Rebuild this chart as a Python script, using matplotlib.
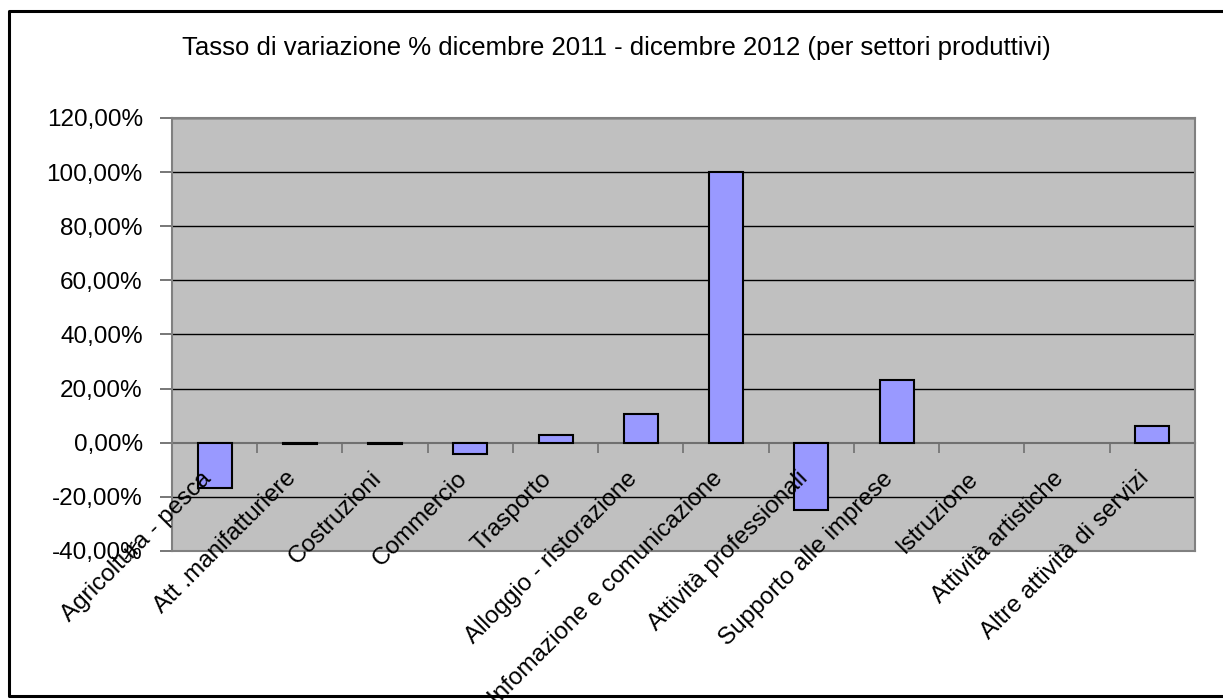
import matplotlib
matplotlib.use("Agg")
import matplotlib.pyplot as plt
from matplotlib.ticker import FuncFormatter, MultipleLocator, FixedLocator
from matplotlib.lines import Line2D

plt.rcParams['font.family'] = ['Liberation Sans', 'DejaVu Sans']

settori = ['Agricoltura - pesca', 'Att .manifatturiere', 'Costruzioni', 'Commercio',
           'Trasporto', 'Alloggio - ristorazione', 'Infomazione e comunicazione',
           'Attività professionali', 'Supporto alle imprese', 'Istruzione',
           'Attività artistiche', 'Altre attività di servizi']
variazione = [-16.7, -0.4, -0.4, -4.0, 2.8, 10.7, 100.0, -24.8, 23.3, 0.0, 0.0, 6.0]

fig = plt.figure(figsize=(12.23, 7), dpi=100)
ax = fig.add_axes([0.1406, 0.2129, 0.8365, 0.6186])
ax.set_facecolor('#C0C0C0')

x = range(len(settori))
bordi = ['black' if v != 0 else 'none' for v in variazione]
ax.bar(x, variazione, width=0.4, color='#9999FF', edgecolor=bordi, linewidth=1.5, zorder=3)

ax.set_xlim(-0.5, len(settori) - 0.5)
ax.set_ylim(-40, 120)
ax.yaxis.set_major_locator(MultipleLocator(20))
ax.yaxis.set_major_formatter(FuncFormatter(lambda v, _: f'{v:.2f}%'.replace('.', ',')))
ax.tick_params(axis='y', labelsize=17.5, length=9, width=1.2, color='#606060', direction='out', pad=12)
for yv in range(-20, 121, 20):
    if yv != 0:
        ax.axhline(yv, color='black', linewidth=1, zorder=1)

# asse categorie sullo zero
ax.spines['bottom'].set_position(('data', 0))
ax.spines['bottom'].set_color('#707070')
ax.spines['bottom'].set_zorder(2)
ax.xaxis.set_major_locator(FixedLocator([i - 0.5 for i in range(len(settori) + 1)]))
ax.tick_params(axis='x', length=7, width=1.2, color='#707070', direction='out', labelbottom=False)
for s in ['left', 'top', 'right']:
    ax.spines[s].set_color('#808080')
    ax.spines[s].set_linewidth(1.5)
ax.spines['bottom'].set_linewidth(1.5)
# bordo inferiore area grafico
ax.plot([0, 1], [0, 0], transform=ax.transAxes, color='#808080', linewidth=1.5, clip_on=False)

for i, nome in enumerate(settori):
    ax.text(i - 0.08, -12, nome, rotation=45, ha='right', va='center',
            rotation_mode='anchor', fontsize=17.5, zorder=5)

fig.text(0.504, 0.931, 'Tasso di variazione % dicembre 2011 - dicembre 2012 (per settori produttivi)',
         ha='center', va='center', fontsize=18.5)

# cornice esterna (il lato destro esce dall'immagine)
x0, y0, y1 = 9 / 1223, 1 - 696 / 700, 1 - 11 / 700
fig.lines.append(Line2D([1.0, x0, x0, 1.0], [y1, y1, y0, y0], transform=fig.transFigure,
                        color='black', linewidth=2.2))

fig.savefig('out.png', dpi=100)
